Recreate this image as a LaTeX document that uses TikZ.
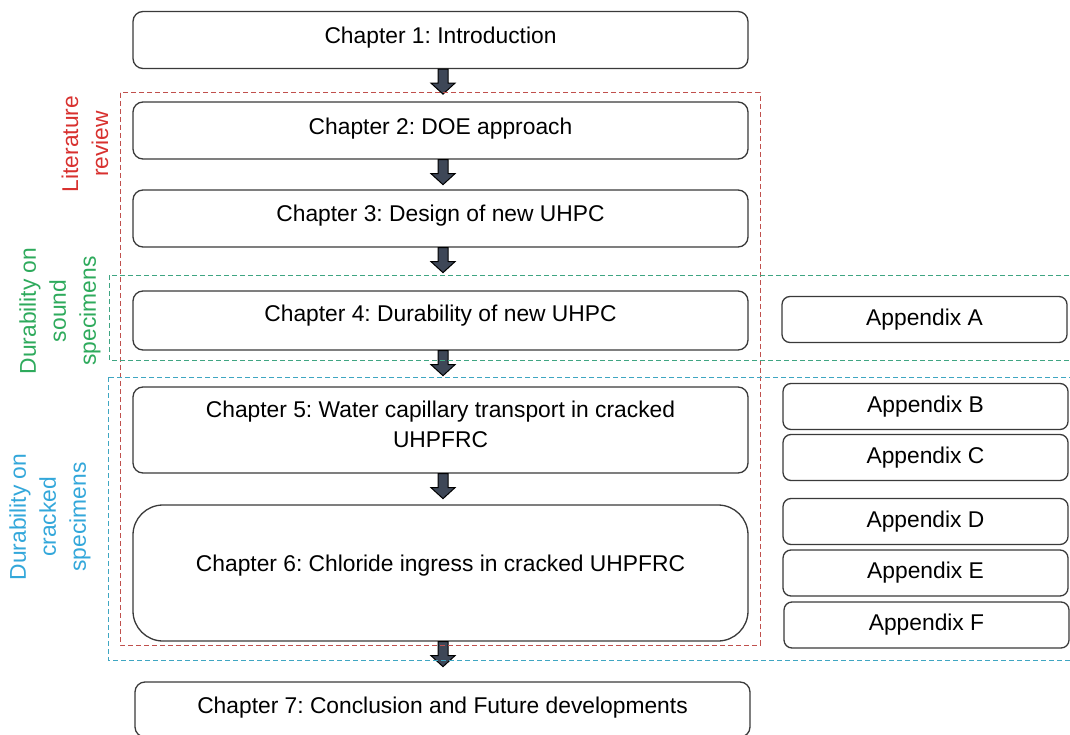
\documentclass[tikz,border=0pt]{standalone}
\usepackage{fontspec}
\setmainfont{Liberation Sans}
\usetikzlibrary{positioning}
\frenchspacing
\definecolor{boxgray}{HTML}{3A3A3A}
\definecolor{litred}{HTML}{D8312F}
\definecolor{litdash}{HTML}{C0504D}
\definecolor{soundgreen}{HTML}{2EAA5C}
\definecolor{sounddash}{HTML}{3FA582}
\definecolor{crackblue}{HTML}{33A7DA}
\definecolor{crackdash}{HTML}{3FA6C2}
\definecolor{arrowfill}{HTML}{3E4757}
\newcommand{\chapterarrow}[1]{%
  \filldraw [fill=arrowfill, draw=black, line width=1pt]
    ([xshift=-2.5pt]#1.south) -- ++(0,14) -- ++(-7,0) -- ++(12,11)
    -- ++(12,-11) -- ++(-7,0) -- ++(0,-14) -- cycle;}

\begin{document}
\begin{tikzpicture}[x=1pt, y=-1pt,
  every node/.style={font=\fontsize{22.8}{30}\selectfont},
  chapter/.style={draw=boxgray, fill=white, line width=1.3pt, rounded corners=10pt,
    minimum width=615pt, minimum height=57pt, inner sep=0pt, text depth=9pt},
  appendix/.style={draw=boxgray, fill=white, line width=1.3pt, rounded corners=8pt,
    minimum width=285pt, minimum height=46pt, inner sep=0pt},
  sidelabel/.style={rotate=90, align=center, inner sep=0pt},
  groupbox/.style={line width=1pt, dash pattern=on 5pt off 3pt}]
\useasboundingbox (0,0) rectangle (1070,735);
\clip (0,0) rectangle (1070,735);

\node [chapter] (ch1) at (440.5,40) {Chapter 1: Introduction};
\node [chapter] (ch2) at (440.5,130.5) {Chapter 2: DOE approach};
\node [chapter, text depth=11pt] (ch3) at (440.5,218.5) {Chapter 3: Design of new UHPC};
\node [chapter, minimum height=59pt, text depth=15pt] (ch4) at (440.5,320.5) {Chapter 4: Durability of new UHPC};
\node [chapter, minimum height=86pt, align=center, text depth=12pt] (ch5) at (440.5,430)
  {Chapter 5: Water capillary transport in cracked\\UHPFRC};
\node [chapter, minimum height=136pt, rounded corners=30pt, text depth=20pt] (ch6) at (440.5,573)
  {Chapter 6: Chloride ingress in cracked UHPFRC};
\node [chapter, minimum height=55pt] (ch7) at (442.5,709.5) {Chapter 7: Conclusion and Future developments};

\node [appendix] (appA) at (924.5,319.5) {Appendix A};
\node [appendix] (appB) at (925.5,406.5) {Appendix B};
\node [appendix] (appC) at (925.5,457.5) {Appendix C};
\node [appendix] (appD) at (925.5,521.5) {Appendix D};
\node [appendix] (appE) at (925.5,573) {Appendix E};
\node [appendix] (appF) at (926.5,625) {Appendix F};

\chapterarrow{ch1}
\chapterarrow{ch2}
\chapterarrow{ch3}
\chapterarrow{ch4}
\chapterarrow{ch5}
\chapterarrow{ch6}

\node [sidelabel, text=litred] (litlabel) at (85,144) {Literature\\review};
\node [sidelabel, text=soundgreen] (soundlabel) at (60,311) {Durability on\\sound\\specimens};
\node [sidelabel, text=crackblue] (cracklabel) at (50,517) {Durability on\\cracked\\specimens};

\draw [groupbox, draw=litdash] (120,93) rectangle (760,645);
\draw [groupbox, draw=sounddash] (109,275) rectangle (1080,360);
\draw [groupbox, draw=crackdash] (108,377) rectangle (1080,660);
\end{tikzpicture}
\end{document}
